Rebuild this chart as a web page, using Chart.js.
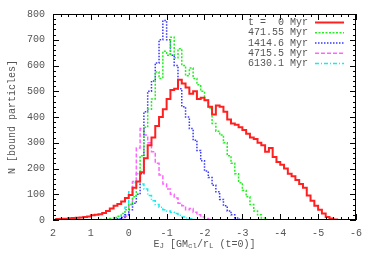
<!DOCTYPE html>
<html>
<head>
<meta charset="utf-8">
<script src="https://cdn.jsdelivr.net/npm/chart.js@4/dist/chart.umd.min.js"></script>
<style>
  html, body { margin: 0; padding: 0; background: #fff; }
  canvas { display: block; }
</style>
</head>
<body>
<canvas id="ejChart" width="374" height="262"></canvas>
<script>
// histogram bins: width 0.1, centres from E = 1.95 down to -5.95
const BIN_FIRST = 1.95;
const BIN_WIDTH = 0.1;

const seriesLabels = ['t =  0 Myr', '471.55 Myr', '1414.6 Myr', '4715.5 Myr', '6130.1 Myr'];

const countsT0 = [
    3, 4, 5, 5, 7, 8, 9, 10, 12, 14,
    18, 20, 22, 27, 35, 45, 55, 62, 72, 85,
    97, 125, 150, 185, 240, 290, 320, 365, 400, 430,
    470, 505, 510, 545, 530, 515, 490, 500, 470, 475,
    465, 440, 410, 445, 440, 420, 390, 375, 370, 360,
    350, 335, 320, 315, 300, 290, 265, 280, 245, 225,
    215, 200, 180, 170, 155, 140, 125, 95, 75, 55,
    40, 25, 12, 6, 2, 0, 0, 0, 0, 0
];
const countsT1 = [
    0, 0, 0, 0, 0, 0, 0, 0, 0, 0,
    1, 1, 2, 2, 3, 6, 10, 15, 25, 40,
    60, 90, 150, 250, 360, 430, 470, 575, 550, 655,
    640, 710, 630, 665, 600, 560, 590, 550, 525, 500,
    465, 435, 375, 345, 330, 300, 250, 220, 180, 145,
    115, 90, 60, 35, 20, 8, 2, 0, 0, 0,
    0, 0, 0, 0, 0, 0, 0, 0, 0, 0,
    0, 0, 0, 0, 0, 0, 0, 0, 0, 0
];
const countsT2 = [
    0, 0, 0, 0, 0, 0, 0, 0, 0, 0,
    0, 0, 0, 0, 0, 0, 2, 5, 10, 20,
    40, 65, 100, 180, 420, 500, 540, 610, 700, 775,
    700, 640, 600, 510, 440, 400, 355, 310, 270, 230,
    190, 165, 135, 110, 80, 55, 35, 20, 8, 3,
    0, 0, 0, 0, 0, 0, 0, 0, 0, 0,
    0, 0, 0, 0, 0, 0, 0, 0, 0, 0,
    0, 0, 0, 0, 0, 0, 0, 0, 0, 0
];
const countsT3 = [
    0, 0, 0, 0, 0, 0, 0, 0, 0, 0,
    0, 0, 0, 0, 0, 0, 0, 0, 3, 15,
    60, 150, 280, 355, 330, 300, 265, 220, 175, 140,
    120, 100, 85, 65, 55, 40, 45, 30, 20, 12,
    6, 3, 1, 0, 0, 0, 0, 0, 0, 0,
    0, 0, 0, 0, 0, 0, 0, 0, 0, 0,
    0, 0, 0, 0, 0, 0, 0, 0, 0, 0,
    0, 0, 0, 0, 0, 0, 0, 0, 0, 0
];
const countsT4 = [
    0, 0, 0, 0, 0, 0, 0, 0, 0, 0,
    0, 0, 0, 0, 0, 0, 0, 3, 15, 50,
    110, 145, 180, 140, 120, 95, 75, 60, 50, 40,
    35, 30, 25, 18, 12, 8, 5, 2, 1, 0,
    0, 0, 0, 0, 0, 0, 0, 0, 0, 0,
    0, 0, 0, 0, 0, 0, 0, 0, 0, 0,
    0, 0, 0, 0, 0, 0, 0, 0, 0, 0,
    0, 0, 0, 0, 0, 0, 0, 0, 0, 0
];

const xTicks = [2, 1, 0, -1, -2, -3, -4, -5, -6];
const yTicks = [0, 100, 200, 300, 400, 500, 600, 700, 800];

const FONT = '"Liberation Mono", "DejaVu Sans Mono", monospace';
const TEXT_COL = '#555';

function toPoints(counts) {
    return counts.map((n, i) => ({ x: +(BIN_FIRST - i * BIN_WIDTH).toFixed(2), y: n }));
}

const styles = [
    { color: '#ff2020', width: 2, dash: [] },
    { color: '#22ee22', width: 1.5, dash: [2, 1.5] },
    { color: '#3838ff', width: 1.5, dash: [1.5, 1.5] },
    { color: '#ff66ff', width: 1.5, dash: [4, 2] },
    { color: '#11eeee', width: 1.5, dash: [4, 2, 1, 2] }
];
const allCounts = [countsT0, countsT1, countsT2, countsT3, countsT4];

const datasets = allCounts.map((c, i) => ({
    label: seriesLabels[i],
    data: toPoints(c),
    borderColor: styles[i].color,
    borderWidth: styles[i].width,
    borderDash: styles[i].dash,
    stepped: 'middle',
    pointRadius: 0,
    fill: false
}));

// gnuplot-like frame with inward ticks, legend and axis titles
const frame = {
    id: 'frame',
    afterDatasetsDraw(chart) {
        const { ctx, chartArea: a, scales } = chart;
        const xs = scales.x, ys = scales.y;
        ctx.save();
        ctx.strokeStyle = '#000';
        ctx.lineWidth = 1;
        ctx.setLineDash([]);
        ctx.strokeRect(a.left + 0.5, a.top + 0.5, a.right - a.left - 1, a.bottom - a.top - 1);
        ctx.beginPath();
        for (let v = -6; v <= 2.001; v += 0.2) {
            const px = Math.round(xs.getPixelForValue(v)) + 0.5;
            const major = Math.abs(v - Math.round(v)) < 0.01;
            const len = major ? 6 : 3;
            ctx.moveTo(px, a.bottom); ctx.lineTo(px, a.bottom - len);
            ctx.moveTo(px, a.top); ctx.lineTo(px, a.top + len);
        }
        for (let v = 0; v <= 800; v += 20) {
            const py = Math.round(ys.getPixelForValue(v)) + 0.5;
            const len = v % 100 === 0 ? 6 : 3;
            ctx.moveTo(a.left, py); ctx.lineTo(a.left + len, py);
            ctx.moveTo(a.right, py); ctx.lineTo(a.right - len, py);
        }
        ctx.stroke();

        // legend
        ctx.font = '10px ' + FONT;
        ctx.textAlign = 'right';
        ctx.textBaseline = 'middle';
        const rowY = [22.5, 32.8, 43, 53.2, 63.4];
        chart.data.datasets.forEach((ds, i) => {
            ctx.fillStyle = TEXT_COL;
            ctx.fillText(ds.label, 308, rowY[i]);
            ctx.strokeStyle = ds.borderColor;
            ctx.lineWidth = ds.borderWidth;
            ctx.setLineDash(ds.borderDash);
            ctx.beginPath();
            ctx.moveTo(315, rowY[i]);
            ctx.lineTo(344, rowY[i]);
            ctx.stroke();
        });
        ctx.setLineDash([]);

        // y title
        ctx.fillStyle = TEXT_COL;
        ctx.save();
        ctx.translate(12, (a.top + a.bottom) / 2);
        ctx.rotate(-Math.PI / 2);
        ctx.textAlign = 'center';
        ctx.fillText('N [bound particles]', 0, 0);
        ctx.restore();

        // x title with subscripts
        const parts = [
            ['E', false], ['J', true], [' [GM', false], ['cl', true],
            ['/r', false], ['L', true], [' (t=0)]', false]
        ];
        const big = '10px ' + FONT, small = '7.5px ' + FONT;
        let w = 0;
        parts.forEach(p => { ctx.font = p[1] ? small : big; w += ctx.measureText(p[0]).width; });
        let x = (a.left + a.right) / 2 - w / 2;
        const by = 244;
        ctx.textAlign = 'left';
        ctx.textBaseline = 'middle';
        parts.forEach(p => {
            ctx.font = p[1] ? small : big;
            ctx.fillText(p[0], x, p[1] ? by + 2.5 : by);
            x += ctx.measureText(p[0]).width;
        });
        ctx.restore();
    }
};

new Chart(document.getElementById('ejChart'), {
    type: 'line',
    data: { datasets },
    options: {
        responsive: false,
        animation: false,
        layout: { padding: { top: 13, right: 18, left: 0, bottom: 0 } },
        plugins: { legend: { display: false }, tooltip: { enabled: false } },
        scales: {
            x: {
                type: 'linear',
                reverse: true,
                min: -6,
                max: 2,
                afterFit: s => { s.height = 42; },
                afterBuildTicks: s => { s.ticks = xTicks.map(v => ({ value: v })); },
                grid: { display: false, drawTicks: false },
                border: { display: false },
                ticks: { padding: 7, color: TEXT_COL, font: { family: FONT, size: 10 } }
            },
            y: {
                min: 0,
                max: 800,
                afterFit: s => { s.width = 53; },
                afterBuildTicks: s => { s.ticks = yTicks.map(v => ({ value: v })); },
                grid: { display: false, drawTicks: false },
                border: { display: false },
                ticks: { padding: 8, color: TEXT_COL, font: { family: FONT, size: 10 } }
            }
        }
    },
    plugins: [frame]
});
</script>
</body>
</html>
